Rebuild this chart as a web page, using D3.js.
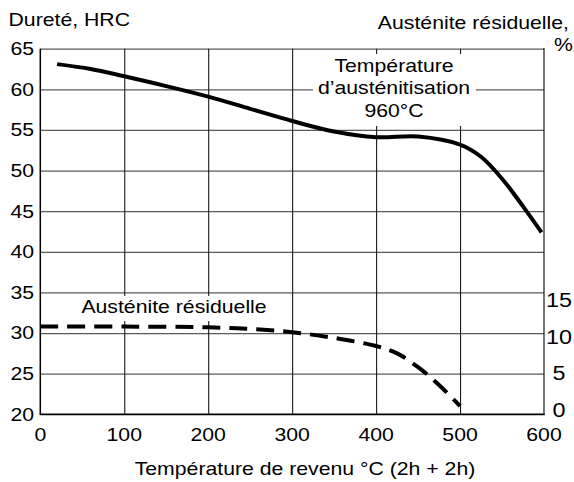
<!DOCTYPE html>
<html>
<head>
<meta charset="utf-8">
<script src="https://cdn.jsdelivr.net/npm/d3@7"></script>
<style>
  html, body { margin: 0; padding: 0; background: #fff; }
  svg { display: block; }
  text { font-family: "Liberation Sans", Arial, Helvetica, sans-serif; fill: #000; }
</style>
</head>
<body>
<svg id="chart" width="574" height="482"></svg>
<script>
// ---- Data ----
const xTicks = [0, 100, 200, 300, 400, 500, 600];
const leftTicks = [20, 25, 30, 35, 40, 45, 50, 55, 60, 65];
const rightTicks = [0, 5, 10, 15];

// Hardness (HRC) vs tempering temperature
const hardTemp = [20, 60, 100, 150, 200, 250, 300, 350, 400, 450, 500, 525, 550, 575, 597];
const hardHRC  = [63.1, 62.5, 61.6, 60.4, 59.1, 57.6, 56.1, 54.8, 54.1, 54.2, 53.2, 51.7, 49.0, 45.6, 42.4];

// Retained austenite (%) vs tempering temperature
const raTemp = [0, 100, 200, 250, 300, 350, 400, 425, 450, 475, 500];
const raPct  = [10.8, 10.8, 10.7, 10.5, 10.1, 9.4, 8.4, 7.5, 5.8, 3.6, 1.0];

const labels = {
  left: "Dureté, HRC",
  right1: "Austénite résiduelle,",
  right2: "%",
  xTitle: "Température de revenu °C (2h + 2h)",
  annot: ["Température", "d\u2019austénitisation", "960°C"],
  raLabel: "Austénite résiduelle"
};

// ---- Layout ----
const svg = d3.select("#chart");
const L = 40.3, R = 544, T = 48.7, B = 414.3;
const x = d3.scaleLinear().domain([0, 600]).range([L, R]);
const yL = d3.scaleLinear().domain([20, 65]).range([B, T]);
const yR = d3.scaleLinear().domain([0, 45]).range([B, T]);          // right axis: same unit size, 0 at bottom
const yRLabel = d3.scaleLinear().domain([0, 15]).range([416.7, 307]); // right label baselines

const FS = 18, SX = 1.18;
function txt(g, px, py, s, anchor, size, sx) {
  return g.append("text")
    .attr("transform", `translate(${px},${py}) scale(${sx || SX},1)`)
    .attr("text-anchor", anchor || "start")
    .style("font-size", (size || FS) + "px")
    .text(s);
}

// ---- Grid ----
const grid = svg.append("g");
grid.append("g")
  .attr("transform", `translate(${L},0)`)
  .call(d3.axisLeft(yL).tickValues(leftTicks.filter(v => v > 20)).tickSize(-(R - L)).tickFormat(""))
  .call(g => g.select(".domain").remove())
  .call(g => g.selectAll("line").attr("stroke", "#5a5a5a").attr("stroke-width", 1.2));
grid.append("g")
  .attr("transform", `translate(0,${B})`)
  .call(d3.axisBottom(x).tickValues(xTicks.filter(v => v > 0 && v < 600)).tickSize(-(B - T)).tickFormat(""))
  .call(g => g.select(".domain").remove())
  .call(g => g.selectAll("line").attr("stroke", "#1a1a1a").attr("stroke-width", 1.1));

// Frame lines (left, right, bottom)
svg.append("line").attr("x1", L).attr("x2", L).attr("y1", T).attr("y2", B)
  .attr("stroke", "#000").attr("stroke-width", 1.5);
svg.append("line").attr("x1", R).attr("x2", R).attr("y1", T - 0.6).attr("y2", B)
  .attr("stroke", "#1a1a1a").attr("stroke-width", 1.2);
svg.append("line").attr("x1", L - 0.7).attr("x2", R + 0.7).attr("y1", B).attr("y2", B)
  .attr("stroke", "#000").attr("stroke-width", 1.8);

// ---- White boxes behind annotations ----
svg.append("rect").attr("x", 313).attr("y", 54).attr("width", 163).attr("height", 72).attr("fill", "#fff");
svg.append("rect").attr("x", 76).attr("y", 296).attr("width", 196).attr("height", 25).attr("fill", "#fff");

// ---- Curves ----
const hardData = hardTemp.map((t, i) => [t, hardHRC[i]]);
const raData = raTemp.map((t, i) => [t, raPct[i]]);

svg.append("path")
  .datum(hardData)
  .attr("fill", "none").attr("stroke", "#000").attr("stroke-width", 4)
  .attr("d", d3.line().x(d => x(d[0])).y(d => yL(d[1])).curve(d3.curveCatmullRom.alpha(0.5)));

svg.append("path")
  .datum(raData)
  .attr("fill", "none").attr("stroke", "#000").attr("stroke-width", 4)
  .attr("stroke-dasharray", "18,9")
  .attr("d", d3.line().x(d => x(d[0])).y(d => yR(d[1])).curve(d3.curveCatmullRom.alpha(0.5)));

// ---- Tick labels ----
const lab = svg.append("g");
leftTicks.forEach(v => txt(lab, 34, yL(v) + 6.4, String(v), "end"));
xTicks.forEach(v => txt(lab, x(v), 441, String(v), "middle"));
rightTicks.forEach(v => txt(lab, 559, yRLabel(v), String(v), "middle", 20.5, 1.14));

// ---- Titles ----
txt(lab, 8.5, 25.5, labels.left, "start");
txt(lab, 569, 29, labels.right1, "end");
txt(lab, 573, 50.5, labels.right2, "end");
txt(lab, 305, 475, labels.xTitle, "middle");

// ---- Annotations ----
const annY = [72, 94, 117];
labels.annot.forEach((s, i) => txt(lab, 394, annY[i], s, "middle"));
txt(lab, 174, 312.5, labels.raLabel, "middle");
</script>
</body>
</html>
